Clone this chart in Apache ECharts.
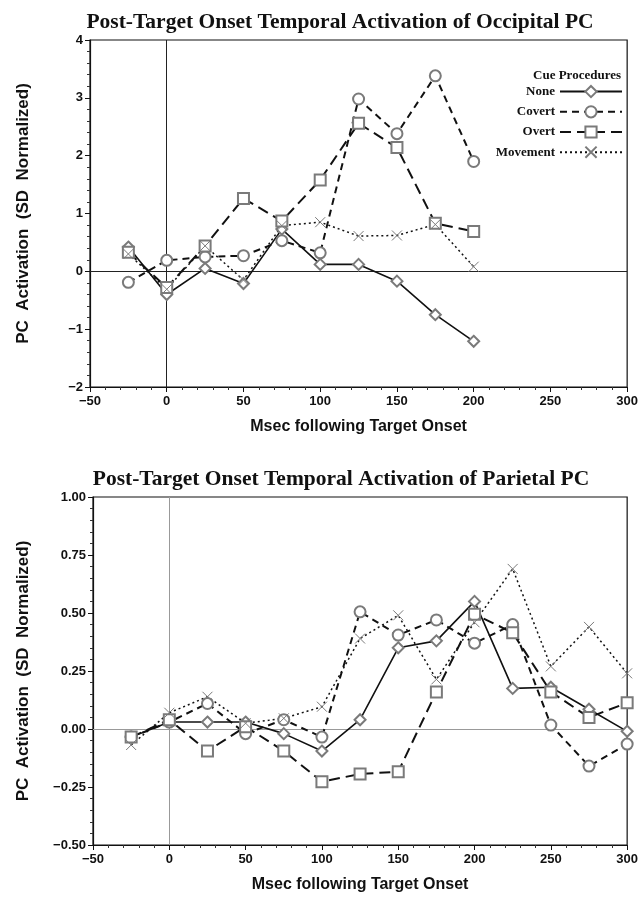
<!DOCTYPE html>
<html>
<head>
<meta charset="utf-8">
<script src="https://cdn.jsdelivr.net/npm/echarts@6/dist/echarts.min.js"></script>
<style>
  html, body { margin: 0; padding: 0; background: #fff; }
  #chart { width: 641px; height: 907px; }
</style>
</head>
<body>
<div id="chart"></div>
<script>
// x positions (msec after target onset)
const msecTop = [-25, 0, 25, 50, 75, 100, 125, 150, 175, 200]
const msecBottom = [-25, 0, 25, 50, 75, 100, 125, 150, 175, 200, 225, 250, 275, 300]

// occipital PC (top panel)
const occNone = [0.42, -0.40, 0.05, -0.21, 0.73, 0.12, 0.12, -0.17, -0.75, -1.21]
const occCovert = [-0.19, 0.19, 0.25, 0.27, 0.53, 0.32, 2.98, 2.38, 3.38, 1.90]
const occOvert = [0.33, -0.28, 0.44, 1.26, 0.87, 1.58, 2.56, 2.14, 0.83, 0.69]
const occMovement = [0.30, -0.31, 0.44, -0.15, 0.79, 0.85, 0.61, 0.62, 0.81, 0.08]

// parietal PC (bottom panel)
const parNone = [-0.035, 0.03, 0.03, 0.03, -0.02, -0.095, 0.04, 0.35, 0.38, 0.55, 0.175, 0.18, 0.085, -0.01]
const parCovert = [-0.035, 0.03, 0.11, -0.02, 0.04, -0.035, 0.505, 0.405, 0.47, 0.37, 0.45, 0.017, -0.16, -0.065]
const parOvert = [-0.035, 0.04, -0.095, 0.01, -0.095, -0.227, -0.194, -0.184, 0.16, 0.495, 0.415, 0.16, 0.05, 0.113]
const parMovement = [-0.069, 0.07, 0.139, 0.025, 0.046, 0.096, 0.39, 0.49, 0.214, 0.46, 0.69, 0.27, 0.44, 0.24]

const cueNames = ['None', 'Covert', 'Overt', 'Movement']
const refX = 0
const refY = 0

const sans = '"Liberation Sans", Arial, sans-serif'
const serif = '"Liberation Serif", "Times New Roman", serif'
const markerGray = '#7a7a7a'

const styles = {
  None: { symbol: 'emptyDiamond', size: 11, line: { type: 'solid', width: 1.6 } },
  Covert: { symbol: 'emptyCircle', size: 11, line: { type: [7, 5], width: 2 } },
  Overt: { symbol: 'emptyRect', size: 11, line: { type: [11, 6], width: 2 } },
  Movement: { symbol: 'path://M0,0L10,10M10,0L0,10', size: 10, line: { type: [2, 3], width: 1.5 } },
}

const minus = (v, digits) => {
  const s = digits ? v.toFixed(digits) : String(v)
  return s.replace('-', '\u2212')
}

function makeSeries(name, xs, ys, idx, refColor) {
  const st = styles[name]
  const s = {
    name,
    type: 'line',
    xAxisIndex: idx,
    yAxisIndex: idx,
    data: xs.map((x, i) => [x, ys[i]]),
    symbol: st.symbol,
    symbolSize: st.size,
    showAllSymbol: true,
    lineStyle: { color: '#111', width: st.line.width, type: st.line.type },
    itemStyle: { color: markerGray, borderColor: markerGray, borderWidth: 1 },
    emphasis: { disabled: true },
    z: 3,
  }
  if (name === 'None') {
    s.markLine = {
      silent: true,
      symbol: 'none',
      label: { show: false },
      lineStyle: { color: refColor, width: 1, type: 'solid' },
      data: [{ xAxis: refX }, { yAxis: refY }],
      z: 1,
    }
  }
  return s
}

function xAxis(idx) {
  return {
    type: 'value',
    gridIndex: idx,
    min: -50,
    max: 300,
    interval: 50,
    name: 'Msec following Target Onset',
    nameLocation: 'middle',
    nameGap: 32,
    nameTextStyle: { fontFamily: sans, fontWeight: 'bold', fontSize: 16, color: '#111' },
    axisLine: { onZero: false, lineStyle: { color: '#111', width: 1.2 } },
    axisTick: { length: 5, lineStyle: { color: '#111' } },
    minorTick: { show: true, splitNumber: 5, length: 3, lineStyle: { color: '#333' } },
    axisLabel: { fontFamily: sans, fontWeight: 'bold', fontSize: 13, color: '#111', margin: 8, formatter: (v) => minus(v) },
    splitLine: { show: false },
  }
}

function yAxis(idx, min, max, interval, digits) {
  return {
    type: 'value',
    gridIndex: idx,
    min,
    max,
    interval,
    name: 'PC  Activation  (SD  Normalized)',
    nameLocation: 'middle',
    nameRotate: 90,
    nameGap: idx === 0 ? 58 : 61,
    nameTextStyle: { fontFamily: sans, fontWeight: 'bold', fontSize: 17, color: '#111' },
    axisLine: { onZero: false, lineStyle: { color: '#111', width: 1.2 } },
    axisTick: { length: 5, lineStyle: { color: '#111' } },
    minorTick: { show: true, splitNumber: 5, length: 3, lineStyle: { color: '#333' } },
    axisLabel: { fontFamily: sans, fontWeight: 'bold', fontSize: 13, color: '#111', margin: 7, formatter: (v) => minus(v, digits) },
    splitLine: { show: false },
  }
}

const option = {
  backgroundColor: '#fff',
  animation: false,
  title: [
    {
      text: 'Post-Target Onset Temporal Activation of Occipital PC',
      left: 335, top: 6, textAlign: 'center',
      textStyle: { fontFamily: serif, fontWeight: 'bold', fontSize: 21.5, color: '#111' },
    },
    {
      text: 'Post-Target Onset Temporal Activation of Parietal PC',
      left: 336, top: 463, textAlign: 'center',
      textStyle: { fontFamily: serif, fontWeight: 'bold', fontSize: 21.5, color: '#111' },
    },
    {
      text: 'Cue Procedures',
      right: 15, top: 64,
      textStyle: { fontFamily: serif, fontWeight: 'bold', fontSize: 13, color: '#111' },
    },
  ],
  legend: {
    data: cueNames,
    orient: 'vertical',
    align: 'right',
    right: 13,
    top: 80,
    itemWidth: 62,
    itemHeight: 14,
    itemGap: 7,
    selectedMode: false,
    textStyle: { fontFamily: serif, fontWeight: 'bold', fontSize: 13, color: '#111' },
  },
  grid: [
    { left: 90, right: 12, top: 40, height: 347, show: true, borderColor: '#111', borderWidth: 1.2, backgroundColor: 'transparent' },
    { left: 93, right: 11, top: 497, height: 348, show: true, borderColor: '#111', borderWidth: 1.2, backgroundColor: 'transparent' },
  ],
  xAxis: [xAxis(0), xAxis(1)],
  yAxis: [yAxis(0, -2, 4, 1, 0), yAxis(1, -0.5, 1, 0.25, 2)],
  series: [
    makeSeries('None', msecTop, occNone, 0, '#222'),
    makeSeries('Covert', msecTop, occCovert, 0),
    makeSeries('Overt', msecTop, occOvert, 0),
    makeSeries('Movement', msecTop, occMovement, 0),
    makeSeries('None', msecBottom, parNone, 1, '#999'),
    makeSeries('Covert', msecBottom, parCovert, 1),
    makeSeries('Overt', msecBottom, parOvert, 1),
    makeSeries('Movement', msecBottom, parMovement, 1),
  ],
}

const chart = echarts.init(document.getElementById('chart'))
chart.setOption(option)
</script>
</body>
</html>
